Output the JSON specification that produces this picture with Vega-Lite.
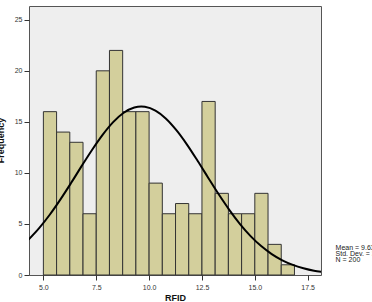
{
  "$schema": "https://vega.github.io/schema/vega-lite/v6.json",
  "width": 292,
  "height": 269,
  "autosize": {"type": "none"},
  "padding": {"left": 29, "top": 6, "right": 51, "bottom": 27},
  "background": "white",
  "config": {
    "view": {"fill": "#EEEEEE", "stroke": "#555555", "strokeWidth": 1},
    "font": "Liberation Sans",
    "axis": {
      "grid": false,
      "domain": false,
      "tickColor": "#333333",
      "tickSize": 5,
      "labelFont": "Liberation Sans",
      "labelFontSize": 7,
      "labelColor": "#333333",
      "titleFont": "Liberation Sans",
      "titleFontSize": 9,
      "titleFontWeight": "bold",
      "titleColor": "#111111"
    }
  },
  "datasets": {
    "bins": [
      {"lo": 5.0, "hi": 5.625, "count": 16},
      {"lo": 5.625, "hi": 6.25, "count": 14},
      {"lo": 6.25, "hi": 6.875, "count": 13},
      {"lo": 6.875, "hi": 7.5, "count": 6},
      {"lo": 7.5, "hi": 8.125, "count": 20},
      {"lo": 8.125, "hi": 8.75, "count": 22},
      {"lo": 8.75, "hi": 9.375, "count": 16},
      {"lo": 9.375, "hi": 10.0, "count": 16},
      {"lo": 10.0, "hi": 10.625, "count": 9},
      {"lo": 10.625, "hi": 11.25, "count": 6},
      {"lo": 11.25, "hi": 11.875, "count": 7},
      {"lo": 11.875, "hi": 12.5, "count": 6},
      {"lo": 12.5, "hi": 13.125, "count": 17},
      {"lo": 13.125, "hi": 13.75, "count": 8},
      {"lo": 13.75, "hi": 14.375, "count": 6},
      {"lo": 14.375, "hi": 15.0, "count": 6},
      {"lo": 15.0, "hi": 15.625, "count": 8},
      {"lo": 15.625, "hi": 16.25, "count": 3},
      {"lo": 16.25, "hi": 16.875, "count": 1}
    ],
    "curve": [
      {"x": 4.3, "y": 3.47},
      {"x": 4.8, "y": 4.59},
      {"x": 5.3, "y": 5.9},
      {"x": 5.8, "y": 7.38},
      {"x": 6.3, "y": 8.98},
      {"x": 6.8, "y": 10.64},
      {"x": 7.3, "y": 12.25},
      {"x": 7.8, "y": 13.73},
      {"x": 8.3, "y": 14.98},
      {"x": 8.8, "y": 15.89},
      {"x": 9.3, "y": 16.4},
      {"x": 9.63, "y": 16.5},
      {"x": 9.8, "y": 16.47},
      {"x": 10.3, "y": 16.1},
      {"x": 10.8, "y": 15.31},
      {"x": 11.3, "y": 14.16},
      {"x": 11.8, "y": 12.75},
      {"x": 12.3, "y": 11.16},
      {"x": 12.8, "y": 9.51},
      {"x": 13.3, "y": 7.88},
      {"x": 13.8, "y": 6.36},
      {"x": 14.3, "y": 4.99},
      {"x": 14.8, "y": 3.81},
      {"x": 15.3, "y": 2.83},
      {"x": 15.8, "y": 2.05},
      {"x": 16.3, "y": 1.44},
      {"x": 16.8, "y": 0.99},
      {"x": 17.3, "y": 0.66},
      {"x": 17.8, "y": 0.42},
      {"x": 18.15, "y": 0.31}
    ],
    "stats": [
      {"label": "Mean = 9.63", "x": 18.82, "y": 2.6},
      {"label": "Std. Dev. = 3.02", "x": 18.82, "y": 2.02},
      {"label": "N = 200", "x": 18.82, "y": 1.46}
    ]
  },
  "layer": [
    {
      "data": {"name": "bins"},
      "mark": {"type": "rect", "fill": "#D3CF9C", "stroke": "#333333", "strokeWidth": 1},
      "encoding": {
        "x": {
          "field": "lo",
          "type": "quantitative",
          "scale": {"domain": [4.32, 18.13], "nice": false, "zero": false},
          "axis": {
            "title": "RFID",
            "values": [5, 7.5, 10, 12.5, 15, 17.5],
            "format": ".1f",
            "labelPadding": 3,
            "titleBaseline": "alphabetic",
            "titleY": 25.5,
            "titleX": 146
          }
        },
        "x2": {"field": "hi"},
        "y": {
          "field": "count",
          "type": "quantitative",
          "scale": {"domain": [0, 26.35], "nice": false},
          "axis": {
            "title": "Frequency",
            "values": [0, 5, 10, 15, 20, 25],
            "labelPadding": 2,
            "titleAngle": -90,
            "titleAlign": "center",
            "titleBaseline": "alphabetic",
            "titleX": -25.5,
            "titleY": 134
          }
        },
        "y2": {"datum": 0}
      }
    },
    {
      "data": {"name": "curve"},
      "mark": {"type": "line", "color": "#000000", "strokeWidth": 2, "interpolate": "monotone", "clip": true},
      "encoding": {
        "x": {"field": "x", "type": "quantitative"},
        "y": {"field": "y", "type": "quantitative"}
      }
    },
    {
      "data": {"name": "stats"},
      "mark": {"type": "text", "align": "left", "baseline": "middle", "fontSize": 7, "font": "Liberation Sans", "color": "#222222", "clip": false},
      "encoding": {
        "x": {"field": "x", "type": "quantitative"},
        "y": {"field": "y", "type": "quantitative"},
        "text": {"field": "label"}
      }
    }
  ]
}
